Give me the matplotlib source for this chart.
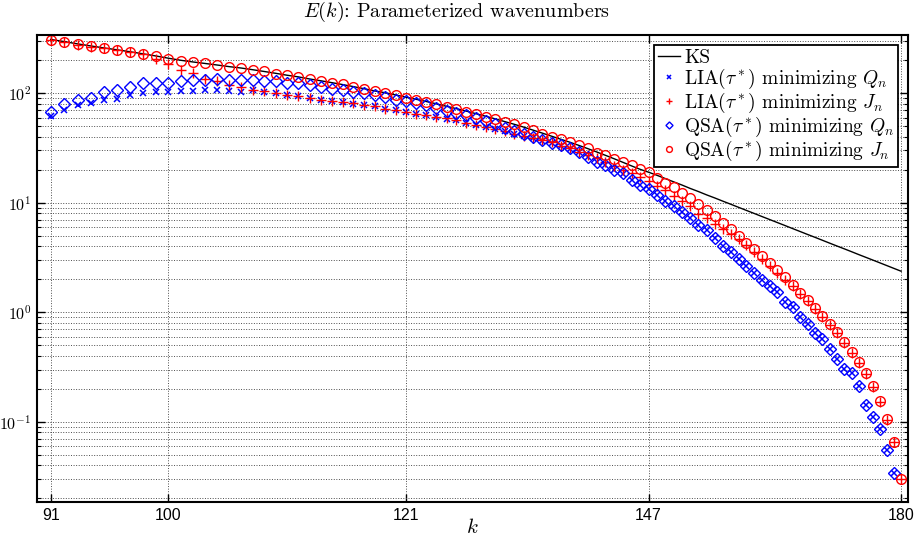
import numpy as np
import matplotlib
matplotlib.use("Agg")
import matplotlib.pyplot as plt
from matplotlib.ticker import FixedLocator, FixedFormatter, NullLocator, LogLocator, NullFormatter

plt.rcParams['mathtext.fontset'] = 'cm'
plt.rcParams['axes.formatter.use_mathtext'] = True

# wavenumbers
k = np.arange(91, 181)

# KS reference spectrum
ks = [310, 296, 282, 270, 259, 249, 239, 229, 219, 209,
      200, 193, 187, 181, 175, 170, 164, 158, 152, 146,
      141, 135, 130, 125, 120, 115, 110, 105, 101, 96.5,
      92.0, 88.0, 84.0, 80.0, 76.0, 72.3, 68.7, 65.0, 61.6, 58.3,
      55.0, 52.0, 49.0, 46.0, 43.2, 40.5, 38.0, 35.7, 33.4, 31.2,
      29.1, 27.1, 25.2, 23.4, 21.7, 20.2, 19.0, 17.8, 16.6, 15.5,
      14.5, 13.5, 12.65, 11.8, 11.07, 10.35, 9.70, 9.08, 8.51, 7.98,
      7.48, 7.02, 6.59, 6.19, 5.81, 5.46, 5.13, 4.83, 4.54, 4.27,
      4.02, 3.79, 3.57, 3.36, 3.17, 2.99, 2.82, 2.66, 2.51, 2.37]

# LIA, tau* minimizing Q_n
lia_q = [62, 71, 77.6, 81, 87.6, 89, 95.5, 101.5, 102.7, 101.8,
         104.5, 105, 106, 106, 104.5, 103.5, 106, 103, 100.6, 97.0,
         94.0, 90.3, 87.2, 84.8, 82.5, 80.3, 78.6, 75.8, 72.0, 69.8,
         66.9, 65.0, 63.6, 60.8, 58.5, 56.4, 54.0, 51.0, 49.0, 46.7,
         44.8, 42.6, 40.5, 38.8, 37.0, 35.2, 33.0, 31.2, 28.8, 26.4,
         23.8, 22.0, 20.1, 18.4, 16.3, 14.6, 13.3, 11.7, 10.3, 9.29,
         8.24, 7.33, 6.24, 5.61, 4.81, 4.01, 3.52, 3.09, 2.67, 2.29,
         1.97, 1.75, 1.53, 1.23, 1.12, 0.906, 0.788, 0.653, 0.575, 0.459,
         0.378, 0.306, 0.279, 0.212, 0.142, 0.111, 0.0867, 0.0550, 0.0341, np.nan]

# LIA, tau* minimizing J_n
lia_j = [305, 292, 278, 265, 259, 246, 236, 227, 204, 184,
         163, 152, 136, 129, 120, 115, 108, 104, 100.6, 97.3,
         93.9, 90.6, 87.0, 85.0, 82.8, 80.6, 78.9, 76.1, 72.0, 70.0,
         66.7, 65.3, 63.9, 60.8, 58.8, 56.7, 54.0, 51.1, 49.2, 46.9,
         45.0, 42.8, 40.7, 39.1, 37.2, 35.5, 33.0, 31.3, 29.1, 27.4,
         25.5, 23.6, 21.8, 20.0, 18.5, 17.2, 15.8, 14.2, 13.0, 11.6,
         10.4, 9.29, 7.96, 7.33, 6.46, 5.81, 5.23, 4.71, 4.09, 3.56,
         3.09, 2.65, 2.30, 1.99, 1.73, 1.48, 1.26, 1.07, 0.905, 0.772,
         0.645, 0.527, 0.426, 0.346, 0.271, 0.208, 0.153, 0.104, 0.0648, 0.0301]

# QSA, tau* minimizing Q_n
qsa_q = [67.5, 79, 86, 90.6, 103, 106.5, 114, 123, 125, 125,
         129, 131, 133, 136, 133, 133, 131, 130, 129, 124,
         123, 118, 114, 110, 108, 103, 101, 96, 92.5, 87.6,
         85, 81.5, 77.6, 73.5, 69.5, 66.5, 63, 58.8, 55.5, 52.0,
         48.6, 45.3, 42.8, 39.9, 37.2, 35.0, 33.5, 31.5, 28.8, 26.4,
         23.8, 22.0, 20.1, 18.5, 16.3, 14.6, 13.3, 11.7, 10.3, 9.29,
         8.24, 7.33, 6.24, 5.61, 4.81, 4.01, 3.52, 3.09, 2.67, 2.29,
         1.97, 1.75, 1.53, 1.23, 1.12, 0.906, 0.788, 0.653, 0.575, 0.459,
         0.378, 0.306, 0.279, 0.212, 0.142, 0.111, 0.0867, 0.0550, 0.0341, np.nan]

# QSA, tau* minimizing J_n
qsa_j = [309, 295, 281, 268, 261, 249, 239, 230, 217, 205,
         198, 194, 188, 181, 175, 171, 164, 158, 151, 146,
         141, 135, 130, 125, 121, 114, 110, 105, 101, 95.9,
         91.4, 87.6, 84.0, 79.4, 74.5, 71.4, 67.8, 64.3, 60.8, 57.9,
         54.7, 52.1, 49.2, 45.9, 42.8, 39.9, 38.0, 35.9, 33.5, 31.3,
         28.7, 27.2, 25.3, 23.6, 22.3, 20.5, 19.0, 16.8, 15.3, 13.8,
         12.3, 11.1, 9.69, 8.55, 7.57, 6.59, 5.77, 5.01, 4.33, 3.78,
         3.27, 2.80, 2.45, 2.10, 1.79, 1.51, 1.29, 1.09, 0.925, 0.788,
         0.657, 0.536, 0.434, 0.352, 0.276, 0.211, 0.155, 0.105, 0.0654, 0.0303]

xticks = [91, 100, 121, 147, 180]
yticks = [1e-1, 1e0, 1e1, 1e2]
ytick_labels = [r'$\mathsf{10^{-1}}$', r'$\mathsf{10^{0}}$', r'$\mathsf{10^{1}}$', r'$\mathsf{10^{2}}$']

serif = 'cmr10'

fig = plt.figure(figsize=(9.17, 5.39), dpi=100)
ax = fig.add_axes([0.0403, 0.0686, 0.9499, 0.8664])

ax.plot(k, ks, color='k', lw=1.0, label='KS')
ax.plot(k, lia_q, ls='none', marker='x', ms=5, mew=1.1, color='b',
        label=r'LIA($\tau^*$) minimizing $Q_n$')
ax.plot(k, lia_j, ls='none', marker='+', ms=7.5, mew=1.0, color='r',
        label=r'LIA($\tau^*$) minimizing $J_n$')
ax.plot(k, qsa_q, ls='none', marker='D', ms=6, mew=1.0, mfc='none', color='b',
        label=r'QSA($\tau^*$) minimizing $Q_n$')
ax.plot(k, qsa_j, ls='none', marker='o', ms=7, mew=1.0, mfc='none', color='r',
        label=r'QSA($\tau^*$) minimizing $J_n$')

ax.set_xscale('log')
ax.set_yscale('log')
ax.set_xlim(90, 181)
ax.set_ylim(0.0185, 340)

ax.xaxis.set_major_locator(FixedLocator(xticks))
ax.xaxis.set_major_formatter(FixedFormatter([str(t) for t in xticks]))
ax.xaxis.set_minor_locator(NullLocator())
ax.yaxis.set_major_locator(FixedLocator(yticks))
ax.yaxis.set_major_formatter(FixedFormatter(ytick_labels))
ax.yaxis.set_minor_locator(LogLocator(base=10, subs=np.arange(2, 10)))
ax.yaxis.set_minor_formatter(NullFormatter())

ax.tick_params(which='both', direction='in', top=True, right=True)
ax.tick_params(which='major', length=6, width=1.0, labelsize=11.5, pad=4)
ax.tick_params(which='minor', length=3, width=0.8)
for lbl in ax.get_xticklabels():
    lbl.set_fontfamily('Liberation Sans')

ax.grid(True, which='major', ls=':', lw=0.7, color='0.3')
ax.yaxis.grid(True, which='minor', ls=':', lw=0.7, color='0.3')
for sp in ax.spines.values():
    sp.set_linewidth(1.5)

ax.set_title(r'$E(k)$: Parameterized wavenumbers', fontsize=14.5, family=serif,
             pad=13, x=0.482)
ax.set_xlabel(r'$k$', fontsize=15, labelpad=-4)

leg = ax.legend(loc='upper right', bbox_to_anchor=(0.989, 0.979), borderaxespad=0,
                prop={'family': serif, 'size': 14}, fancybox=False, framealpha=1,
                edgecolor='k', markerscale=0.6, handlelength=1.15, handletextpad=0.2,
                labelspacing=0.0, borderpad=0.2)
leg.get_frame().set_linewidth(1.3)

fig.savefig('out.png', dpi=100)
